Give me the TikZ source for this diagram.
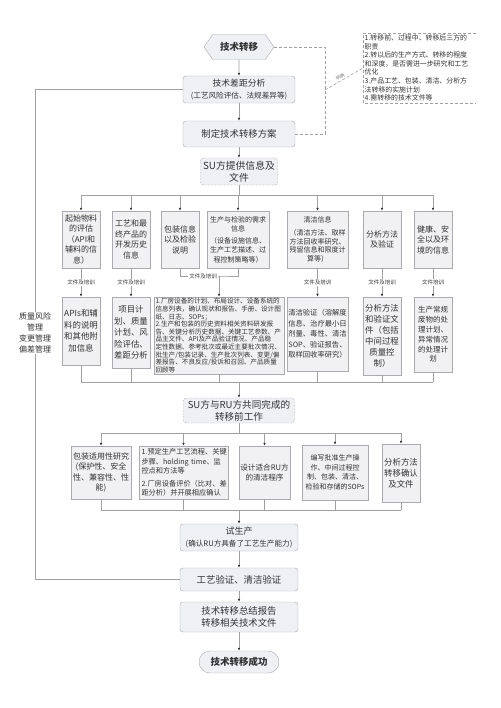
\documentclass[tikz,border=0pt]{standalone}
\usepackage{fontspec}
\setmainfont{Noto Sans CJK SC}
\usetikzlibrary{arrows.meta,shapes.symbols}
\definecolor{boxfill}{HTML}{EEF0F4}
\definecolor{subfill}{HTML}{F1F1F3}
\definecolor{boxline}{HTML}{A9ABB0}
\definecolor{linegray}{HTML}{A0A0A0}
\definecolor{ink}{HTML}{333333}
\newcommand{\fs}[2]{\fontsize{#1}{#2}\selectfont}

\begin{document}
\begin{tikzpicture}[x=1pt, y=-1pt, every node/.style={text=ink},
  mainbox/.style={draw=boxline, fill=boxfill, rounded corners=3pt,
                  align=center, inner sep=0pt, minimum width=112pt},
  subbox/.style={draw=boxline, fill=subfill, align=center, inner sep=0pt},
  dotbox/.style={mainbox, dash pattern=on 2pt off 1.2pt},
  wire/.style={draw=linegray, line width=0.6pt},
  arrow/.style={wire, -{Latex[length=3pt, width=2.6pt, color=ink]}},
  tag/.style={fill=white, inner sep=1pt, font=\fs{5.5}{6}},
  notewire/.style={draw=linegray, line width=0.6pt, dash pattern=on 3pt off 2pt}]
  \useasboundingbox (0,0) rectangle (500,708);

  % main column
  \node[signal, signal to=west and east, signal pointer angle=110,
        draw=boxline, fill=boxfill, minimum width=70pt, minimum height=25pt,
        inner sep=0pt, font=\bfseries\fs{9.5}{11}] (start) at (239,47) {技术转移};
  \node[mainbox, minimum height=27pt] (gap) at (239,89.5)
       {{\fs{8.8}{11}技术差距分析}\\{\fs{7.6}{10}(工艺风险评估、法规差异等)}};
  \node[mainbox, minimum height=26pt, font=\fs{9.4}{11}] (plan) at (239,134) {制定技术转移方案};
  \node[dotbox, minimum width=77pt, minimum height=27pt, font=\fs{9.8}{12.5}] (su) at (239,171.5)
       {SU方提供信息及\\文件};

  % note
  \node[align=left, font=\fs{6.9}{8.6}, text width=110pt, inner sep=1.5pt, anchor=north west] (note) at (363,33)
       {1.转移前、过程中、转移后三方的\\职责\\2.转以后的生产方式、转移的程度\\和深度，是否需进一步研究和工艺\\优化\\3.产品工艺、包装、清洁、分析方\\法转移的实施计划\\4.需转移的技术文件等};
  \draw[notewire] (note.north east) -- (note.north west) -- (note.south west) -- (note.south east);
  \coordinate (rail) at (325,90);
  \draw[notewire] (start.east) -| (rail) |- (plan.east);
  \draw[notewire] (rail) -- node[pos=0.45, sloped, above, inner sep=1.5pt, font=\fs{4.5}{5}, text=gray] {明确} (note.west);

  % SU information
  \node[subbox, minimum width=38pt, minimum height=57pt, font=\fs{8}{10.5}] (a1) at (81,239.5)
       {起始物料\\的评估\\（API和\\辅料的信\\息）};
  \node[subbox, minimum width=38pt, minimum height=57pt, font=\fs{8}{10.5}] (a2) at (131,239.5)
       {工艺和最\\终产品的\\开发历史\\信息};
  \node[subbox, minimum width=38pt, minimum height=57pt, font=\fs{8}{10.5}] (a3) at (180,239.5)
       {包装信息\\以及检验\\说明};
  \node[subbox, minimum width=62pt, minimum height=57pt, font=\fs{7}{9.3}] (a4) at (238,239.5)
       {生产与检验的需求\\信息\\[3pt]（设备设施信息、\\生产工艺描述、过\\程控制策略等）};
  \node[subbox, minimum width=61pt, minimum height=57pt, font=\fs{7}{8.8}] (a5) at (317.5,239.5)
       {清洁信息\\[4pt]（清洁方法、取样\\方法回收率研究、\\残留信息和限度计\\算等）};
  \node[subbox, minimum width=38pt, minimum height=57pt, font=\fs{8}{10.5}] (a6) at (382,239.5)
       {分析方法\\及验证};
  \node[subbox, minimum width=38pt, minimum height=57pt, font=\fs{8}{10.5}] (a7) at (433,239.5)
       {健康、安\\全以及环\\境的信息};

  \node[subbox, minimum width=38pt, minimum height=68pt, font=\fs{8.4}{11.5}] (b1) at (81,331)
       {APIs和辅\\料的说明\\和其他附\\加信息};
  \node[subbox, minimum width=38pt, minimum height=71pt, font=\fs{8.4}{11.5}] (b2) at (131,332.5)
       {项目计\\划、质量\\计划、风\\险评估、\\差距分析};
  \node[subbox, minimum width=130pt, minimum height=77pt, text width=127pt, align=left,
        font=\fs{6.6}{7.6}] (b3) at (219,335.5)
       {1.厂房设备的计划、布局设计、设备系统的\\信息列表，确认现状和报告、手册、设计图\\纸、日志、SOPs；\\2.生产和包装的历史资料相关资料研发报\\告、关键分析历史数据、关键工艺参数、产\\品主文件、API及产品验证情况、产品稳\\定性数据、参考批次或最近主要批次情况、\\批生产/包装记录、生产批次列表、变更/偏\\差报告、不良反应/投诉和召回、产品质量\\回顾等};
  \node[subbox, minimum width=61pt, minimum height=74pt, font=\fs{7.3}{10.5}] (b5) at (317.5,334)
       {清洁验证（溶解度\\信息、治疗最小日\\剂量、毒性、清洁\\SOP、验证报告、\\取样回收率研究）};
  \node[subbox, minimum width=38pt, minimum height=78pt, font=\fs{8.4}{11}] (b6) at (382,336)
       {分析方法\\和验证文\\件（包括\\中间过程\\质量控\\制）};
  \node[subbox, minimum width=38pt, minimum height=75pt, font=\fs{7.5}{9.8}] (b7) at (433,334.5)
       {生产常规\\废物的处\\理计划、\\异常情况\\的处理计\\划};

  % joint work
  \node[dotbox, minimum width=111pt, minimum height=25pt, font=\fs{9.6}{12}] (su2) at (239,410.5)
       {SU方与RU方共同完成的\\转移前工作};
  \node[subbox, minimum width=60pt, minimum height=53pt, font=\fs{8}{10.5}] (c1) at (101,472.5)
       {包装适用性研究\\(保护性、安全\\性、兼容性、性\\能)};
  \node[subbox, minimum width=89pt, minimum height=53pt, text width=84pt, align=left,
        font=\fs{7.2}{9.5}] (c2) at (183.5,472.5)
       {1.预定生产工艺流程、关键\\步骤、holding time、监\\控点和方法等\\[3pt]2.厂房设备评价（比对、差\\距分析）并开展相应确认};
  \node[subbox, minimum width=51pt, minimum height=53pt, font=\fs{7.6}{10}] (c3) at (264.5,472.5)
       {设计适合RU方\\的清洁程序};
  \node[subbox, minimum width=66pt, minimum height=55pt, font=\fs{7}{9.5}] (c4) at (335,472.5)
       {编写批准生产操\\作、中间过程控\\制、包装、清洁、\\检验和存储的SOPs};
  \node[subbox, minimum width=38pt, minimum height=58pt, font=\fs{8.4}{11}] (c5) at (401,473)
       {分析方法\\转移确认\\及文件};

  \node[mainbox, minimum width=118pt, minimum height=27pt] (trial) at (239,537.5)
       {{\fs{9}{11}试生产}\\{\fs{7.6}{10}(确认RU方具备了工艺生产能力)}};
  \node[mainbox, minimum width=118pt, minimum height=23pt, font=\fs{9.4}{11}] (verify) at (239,579.5)
       {工艺验证、清洁验证};
  \node[mainbox, minimum width=118pt, minimum height=30pt, font=\fs{9.4}{11.5}] (report) at (239,617)
       {技术转移总结报告\\转移相关技术文件};
  \node[draw=boxline, fill=boxfill, rounded corners=11pt, minimum width=80pt, minimum height=22pt,
        font=\bfseries\fs{9.5}{11}] (done) at (239,662) {技术转移成功};

  % feedback loop
  \node[fill=white, align=center, font=\fs{8}{11}, inner sep=1pt] (risk) at (35,333)
       {质量风险\\管理\\变更管理\\偏差管理};
  \draw[wire] (verify.west) -| (risk.south);
  \draw[wire] (risk.north) |- (gap.west);

  % connectors
  \foreach \a/\b in {start/gap, gap/plan, plan/su, trial/verify, verify/report, report/done} {
    \draw[arrow] (\a) -- (\b);
  }

  \coordinate (bar1) at (239,195);
  \draw[wire] (su) -- (bar1);
  \draw[wire] (a1 |- bar1) -- (a7 |- bar1);
  \foreach \n in {a1,a2,a3,a4,a5,a6,a7} {
    \draw[arrow] (\n |- bar1) -- (\n.north);
  }

  \foreach \u/\l/\t in {a1/b1/文件及培训, a2/b2/文件及培训, a5/b5/文件及培训, a6/b6/文件及培训, a7/b7/文件培训} {
    \draw[arrow] (\u) -- node[tag] {\t} (\l);
  }
  \coordinate (join) at (219,276);
  \draw[wire] (a3.south) |- (join) -| (a4.south);
  \draw[arrow] (join) -- (b3.north);
  \node[tag] (tag34) at (203,276) {文件及培训};

  \coordinate (bar2) at (239,382);
  \draw[wire] (b1 |- bar2) -- (b7 |- bar2);
  \foreach \n in {b1,b2,b3,b5,b6,b7} {
    \draw[wire] (\n.south) -- (\n |- bar2);
  }
  \draw[arrow] (bar2) -- (su2);

  \coordinate (bar3) at (239,433);
  \draw[wire] (su2) -- (bar3);
  \draw[wire] (c1 |- bar3) -- (c5 |- bar3);
  \foreach \n in {c1,c2,c3,c4,c5} {
    \draw[arrow] (\n |- bar3) -- (\n.north);
  }

  \coordinate (bar4) at (239,510);
  \draw[wire] (c1 |- bar4) -- (c5 |- bar4);
  \foreach \n in {c1,c2,c3,c4,c5} {
    \draw[wire] (\n.south) -- (\n |- bar4);
  }
  \draw[arrow] (bar4) -- (trial);
\end{tikzpicture}
\end{document}
